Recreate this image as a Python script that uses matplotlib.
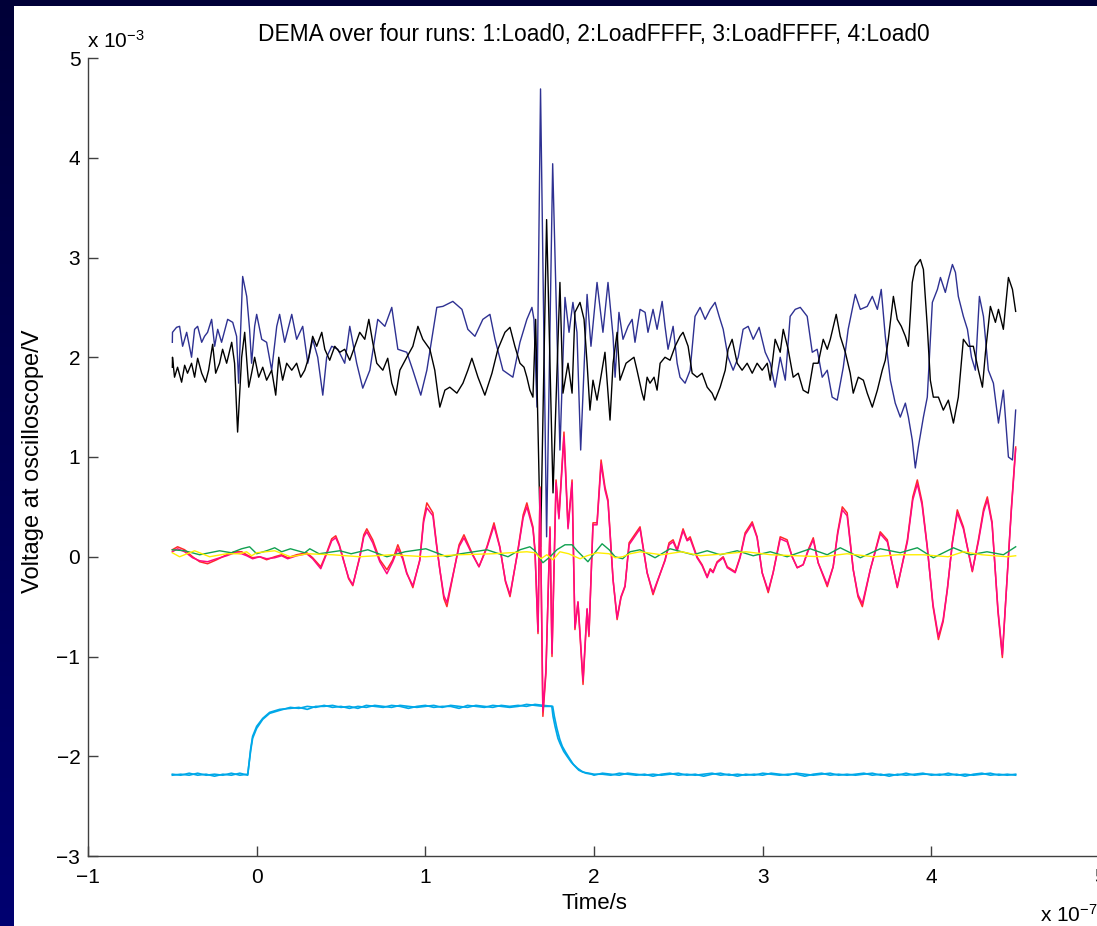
import numpy as np
import matplotlib
matplotlib.use("Agg")
import matplotlib.pyplot as plt
from matplotlib.patches import Rectangle
from matplotlib.colors import LinearSegmentedColormap

plt.rcParams['font.family'] = ['Liberation Sans', 'DejaVu Sans']
plt.rcParams['mathtext.fontset'] = 'custom'
plt.rcParams['mathtext.rm'] = 'Liberation Sans'
plt.rcParams['mathtext.it'] = 'Liberation Sans:italic'
plt.rcParams['mathtext.bf'] = 'Liberation Sans:bold'

# ---------------- data: time in units of 1e-7 s, voltage in units of 1e-3 V ----------------
title = "DEMA over four runs: 1:Load0, 2:LoadFFFF, 3:LoadFFFF, 4:Load0"
x_ticks = [-1, 0, 1, 2, 3, 4, 5]
y_ticks = [-3, -2, -1, 0, 1, 2, 3, 4, 5]

navy_trace = [
    (-0.50, 2.15), (-0.499, 2.25), (-0.475, 2.30), (-0.457, 2.31), (-0.439, 2.11), (-0.415, 2.25),
    (-0.386, 2.00), (-0.368, 2.28), (-0.350, 2.31), (-0.326, 2.15), (-0.309, 2.21), (-0.291, 2.25),
    (-0.267, 2.38), (-0.249, 2.11), (-0.231, 2.28), (-0.208, 2.15), (-0.172, 2.38), (-0.142, 2.35),
    (-0.119, 2.21), (-0.107, 1.74), (-0.083, 2.81), (-0.059, 2.61), (-0.042, 2.28), (-0.030, 1.94),
    (-0.012, 2.31), (0.000, 2.43), (0.030, 2.18), (0.059, 2.15), (0.089, 1.87), (0.119, 2.31),
    (0.136, 2.43), (0.166, 2.15), (0.208, 2.43), (0.237, 2.18), (0.273, 2.31), (0.303, 1.94),
    (0.332, 2.18), (0.362, 2.00), (0.392, 1.62), (0.415, 2.00), (0.445, 2.11), (0.481, 2.08),
    (0.522, 1.94), (0.552, 2.31), (0.593, 1.94), (0.629, 1.69), (0.671, 1.87), (0.718, 2.38),
    (0.760, 2.31), (0.801, 2.50), (0.837, 2.08), (0.890, 2.05), (0.926, 1.87), (0.973, 1.62),
    (1.009, 1.87), (1.068, 2.50), (1.104, 2.51), (1.163, 2.56), (1.217, 2.48), (1.252, 2.28),
    (1.294, 2.21), (1.341, 2.38), (1.383, 2.43), (1.413, 2.18), (1.460, 1.87), (1.519, 1.80),
    (1.561, 2.15), (1.602, 2.38), (1.632, 2.50), (1.644, 2.38), (1.662, 1.50), (1.683, 4.69),
    (1.719, 0.20), (1.755, 3.94), (1.798, 1.07), (1.828, 2.60), (1.852, 2.25), (1.875, 2.55),
    (1.899, 2.25), (1.921, 1.07), (1.959, 2.63), (1.982, 2.11), (2.018, 2.75), (2.053, 2.25),
    (2.083, 2.75), (2.113, 2.21), (2.125, 1.80), (2.148, 2.45), (2.172, 2.18), (2.202, 2.31),
    (2.226, 2.38), (2.243, 2.15), (2.273, 2.48), (2.303, 2.45), (2.320, 2.25), (2.350, 2.48),
    (2.374, 2.28), (2.404, 2.56), (2.421, 2.31), (2.439, 2.08), (2.469, 2.31), (2.493, 1.94),
    (2.510, 1.80), (2.540, 1.74), (2.570, 1.87), (2.599, 2.41), (2.629, 2.50), (2.659, 2.38),
    (2.689, 2.48), (2.718, 2.55), (2.742, 2.41), (2.766, 2.28), (2.795, 2.00), (2.825, 1.87),
    (2.855, 2.00), (2.884, 2.28), (2.914, 2.31), (2.944, 2.18), (2.979, 2.30), (3.015, 2.05),
    (3.045, 1.94), (3.074, 1.70), (3.104, 2.00), (3.134, 1.77), (3.163, 2.41), (3.193, 2.48),
    (3.223, 2.50), (3.264, 2.41), (3.294, 2.05), (3.323, 2.08), (3.353, 1.80), (3.383, 1.87),
    (3.412, 1.60), (3.442, 1.57), (3.478, 1.90), (3.507, 2.28), (3.549, 2.63), (3.579, 2.48),
    (3.620, 2.51), (3.650, 2.61), (3.680, 2.48), (3.703, 2.68), (3.727, 2.21), (3.757, 1.77),
    (3.786, 1.54), (3.816, 1.40), (3.846, 1.54), (3.864, 1.40), (3.887, 1.17), (3.905, 0.89),
    (3.923, 1.10), (3.953, 1.40), (3.976, 1.60), (4.006, 2.55), (4.036, 2.68), (4.054, 2.80),
    (4.083, 2.65), (4.101, 2.78), (4.125, 2.93), (4.143, 2.85), (4.160, 2.61), (4.190, 2.41),
    (4.214, 2.28), (4.238, 2.00), (4.261, 1.87), (4.285, 2.61), (4.309, 2.41), (4.338, 1.87),
    (4.368, 1.74), (4.398, 1.34), (4.427, 1.67), (4.457, 1.00), (4.481, 0.97), (4.500, 1.47),
]

black_trace = [
    (-0.50, 1.90), (-0.499, 2.00), (-0.487, 1.80), (-0.469, 1.90), (-0.445, 1.75), (-0.427, 1.92),
    (-0.410, 1.84), (-0.386, 1.94), (-0.368, 1.80), (-0.350, 1.99), (-0.326, 1.84), (-0.303, 1.75),
    (-0.285, 1.87), (-0.261, 2.13), (-0.243, 1.84), (-0.220, 1.94), (-0.202, 2.08), (-0.178, 1.94),
    (-0.148, 2.15), (-0.131, 1.94), (-0.113, 1.25), (-0.089, 2.00), (-0.071, 2.25), (-0.047, 1.70),
    (-0.030, 1.84), (-0.012, 2.00), (0.012, 1.80), (0.036, 1.90), (0.059, 1.77), (0.089, 1.87),
    (0.113, 1.62), (0.131, 2.00), (0.154, 1.77), (0.178, 1.94), (0.208, 1.87), (0.237, 1.94),
    (0.261, 1.80), (0.285, 1.87), (0.309, 2.00), (0.332, 2.21), (0.356, 2.11), (0.386, 2.25),
    (0.404, 2.08), (0.433, 1.97), (0.463, 2.11), (0.493, 2.05), (0.522, 2.08), (0.552, 1.97),
    (0.582, 2.11), (0.611, 2.25), (0.641, 2.18), (0.665, 2.38), (0.688, 2.15), (0.712, 1.94),
    (0.748, 1.87), (0.777, 1.99), (0.801, 1.74), (0.825, 1.62), (0.849, 1.87), (0.890, 2.00),
    (0.926, 2.11), (0.956, 2.31), (0.985, 2.18), (1.027, 2.08), (1.056, 1.87), (1.074, 1.64),
    (1.086, 1.50), (1.116, 1.67), (1.145, 1.70), (1.187, 1.64), (1.223, 1.74), (1.252, 1.87),
    (1.276, 1.99), (1.312, 1.80), (1.353, 1.62), (1.395, 1.84), (1.430, 2.08), (1.472, 2.25),
    (1.502, 2.30), (1.531, 2.11), (1.561, 1.94), (1.585, 1.90), (1.602, 1.80), (1.620, 1.67),
    (1.638, 1.60), (1.654, 2.38), (1.683, 0.10), (1.719, 3.38), (1.757, 0.64), (1.798, 2.75),
    (1.816, 1.64), (1.846, 1.94), (1.870, 1.64), (1.887, 2.45), (1.917, 2.55), (1.941, 2.38),
    (1.959, 1.94), (1.976, 1.47), (1.994, 1.77), (2.018, 1.57), (2.065, 2.05), (2.095, 1.37),
    (2.113, 1.94), (2.137, 2.25), (2.154, 1.77), (2.190, 1.94), (2.214, 1.97), (2.237, 2.00),
    (2.255, 1.87), (2.285, 1.64), (2.297, 1.57), (2.315, 1.80), (2.332, 1.74), (2.356, 1.80),
    (2.374, 1.67), (2.392, 1.94), (2.421, 2.00), (2.451, 1.97), (2.481, 2.11), (2.510, 2.21),
    (2.528, 2.25), (2.558, 2.11), (2.582, 1.84), (2.611, 1.80), (2.641, 1.84), (2.671, 1.70),
    (2.700, 1.64), (2.718, 1.57), (2.748, 1.70), (2.778, 1.87), (2.795, 2.08), (2.819, 2.18),
    (2.849, 1.94), (2.878, 1.87), (2.908, 1.94), (2.938, 1.84), (2.967, 1.94), (2.997, 1.87),
    (3.027, 1.94), (3.045, 1.77), (3.074, 2.18), (3.104, 2.05), (3.122, 2.28), (3.151, 2.08),
    (3.181, 1.80), (3.211, 1.84), (3.240, 1.67), (3.270, 1.64), (3.300, 1.94), (3.329, 1.94),
    (3.359, 2.18), (3.383, 2.08), (3.401, 2.18), (3.436, 2.43), (3.460, 2.21), (3.490, 2.05),
    (3.519, 1.84), (3.537, 1.64), (3.567, 1.80), (3.597, 1.77), (3.620, 1.64), (3.650, 1.50),
    (3.680, 1.67), (3.709, 1.87), (3.727, 1.97), (3.745, 2.18), (3.775, 2.61), (3.798, 2.38),
    (3.822, 2.31), (3.846, 2.21), (3.864, 2.11), (3.887, 2.75), (3.905, 2.91), (3.935, 2.98),
    (3.953, 2.88), (3.976, 2.31), (3.994, 1.77), (4.012, 1.60), (4.042, 1.60), (4.071, 1.47),
    (4.101, 1.57), (4.131, 1.34), (4.160, 1.60), (4.190, 2.18), (4.220, 2.11), (4.249, 2.11),
    (4.279, 1.87), (4.303, 1.70), (4.321, 2.05), (4.350, 2.51), (4.380, 2.35), (4.398, 2.48),
    (4.427, 2.28), (4.457, 2.80), (4.481, 2.68), (4.500, 2.46),
]

red_trace = [
    (-0.50, 0.07), (-0.469, 0.10), (-0.427, 0.07), (-0.380, 0.00), (-0.338, -0.05), (-0.291, -0.07),
    (-0.237, -0.03), (-0.178, 0.02), (-0.131, 0.05), (-0.089, 0.05), (-0.059, 0.02), (-0.024, -0.01),
    (0.018, 0.00), (0.059, -0.03), (0.107, 0.00), (0.148, 0.02), (0.184, -0.01), (0.237, 0.02),
    (0.297, 0.04), (0.332, -0.01), (0.380, -0.10), (0.415, 0.04), (0.445, 0.18), (0.469, 0.21),
    (0.490, 0.12), (0.510, 0.00), (0.545, -0.22), (0.570, -0.29), (0.590, -0.15), (0.611, 0.00),
    (0.635, 0.22), (0.653, 0.28), (0.688, 0.17), (0.730, -0.03), (0.772, -0.13), (0.807, -0.03),
    (0.837, 0.12), (0.865, 0.00), (0.890, -0.16), (0.926, -0.31), (0.967, -0.03), (0.990, 0.38),
    (1.009, 0.54), (1.045, 0.44), (1.065, 0.15), (1.086, -0.13), (1.110, -0.42), (1.128, -0.50),
    (1.163, -0.20), (1.200, 0.12), (1.229, 0.22), (1.276, 0.04), (1.318, -0.10), (1.365, 0.10),
    (1.407, 0.34), (1.442, 0.10), (1.475, -0.25), (1.502, -0.40), (1.549, 0.07), (1.580, 0.42),
    (1.602, 0.54), (1.638, 0.30), (1.650, 0.07), (1.668, -0.77), (1.680, 0.70), (1.697, -1.60),
    (1.715, -1.17), (1.739, 0.30), (1.751, -1.00), (1.775, 0.77), (1.792, 0.40), (1.822, 1.25),
    (1.846, 0.30), (1.870, 0.77), (1.887, -0.73), (1.905, -0.46), (1.935, -1.28), (1.959, -0.53),
    (1.970, -0.80), (1.994, 0.34), (2.018, 0.34), (2.042, 0.97), (2.065, 0.70), (2.083, 0.57),
    (2.113, -0.23), (2.137, -0.63), (2.160, -0.41), (2.184, -0.30), (2.208, 0.14), (2.273, 0.30),
    (2.315, -0.16), (2.350, -0.38), (2.374, -0.26), (2.421, -0.03), (2.445, 0.14), (2.469, 0.17),
    (2.493, 0.07), (2.528, 0.28), (2.552, 0.17), (2.570, 0.20), (2.611, 0.00), (2.641, -0.08),
    (2.671, -0.20), (2.689, -0.12), (2.706, -0.15), (2.730, -0.05), (2.766, 0.00), (2.790, -0.10),
    (2.837, -0.15), (2.866, 0.00), (2.896, 0.24), (2.938, 0.35), (2.967, 0.20), (2.997, -0.16),
    (3.033, -0.36), (3.062, -0.16), (3.104, 0.20), (3.145, 0.17), (3.175, 0.00), (3.205, -0.11),
    (3.240, -0.08), (3.270, 0.07), (3.300, 0.19), (3.329, -0.06), (3.383, -0.30), (3.418, -0.10),
    (3.445, 0.25), (3.472, 0.50), (3.501, 0.44), (3.537, -0.13), (3.565, -0.40), (3.591, -0.50),
    (3.638, -0.13), (3.697, 0.25), (3.739, 0.17), (3.798, -0.31), (3.858, 0.17), (3.890, 0.60),
    (3.917, 0.77), (3.945, 0.55), (3.976, 0.10), (4.010, -0.50), (4.042, -0.83), (4.070, -0.65),
    (4.095, -0.33), (4.125, 0.15), (4.154, 0.47), (4.190, 0.30), (4.243, -0.15), (4.279, 0.17),
    (4.310, 0.48), (4.332, 0.60), (4.360, 0.35), (4.395, -0.55), (4.421, -1.01), (4.451, -0.16),
    (4.475, 0.50), (4.500, 1.10),
]

magenta_trace = [
    (-0.50, 0.05), (-0.469, 0.08), (-0.427, 0.05), (-0.380, -0.01), (-0.338, -0.04), (-0.291, -0.05),
    (-0.237, -0.02), (-0.178, 0.01), (-0.131, 0.04), (-0.089, 0.03), (-0.059, 0.01), (-0.024, -0.02),
    (0.018, 0.00), (0.059, -0.02), (0.107, -0.01), (0.148, 0.01), (0.184, -0.02), (0.237, 0.01),
    (0.297, 0.03), (0.332, -0.02), (0.380, -0.12), (0.415, 0.03), (0.445, 0.16), (0.469, 0.19),
    (0.490, 0.11), (0.510, -0.01), (0.545, -0.21), (0.570, -0.28), (0.590, -0.15), (0.611, -0.01),
    (0.635, 0.20), (0.653, 0.25), (0.688, 0.14), (0.730, -0.05), (0.772, -0.17), (0.807, -0.05),
    (0.837, 0.08), (0.865, -0.02), (0.890, -0.17), (0.926, -0.29), (0.967, -0.04), (0.990, 0.35),
    (1.009, 0.49), (1.045, 0.41), (1.065, 0.13), (1.086, -0.13), (1.110, -0.39), (1.128, -0.46),
    (1.163, -0.19), (1.200, 0.10), (1.229, 0.19), (1.276, 0.03), (1.318, -0.10), (1.365, 0.09),
    (1.407, 0.31), (1.442, 0.09), (1.475, -0.24), (1.502, -0.38), (1.549, 0.06), (1.580, 0.39),
    (1.602, 0.50), (1.638, 0.28), (1.650, 0.06), (1.668, -0.75), (1.680, 0.68), (1.697, -1.55),
    (1.715, -1.14), (1.739, 0.28), (1.751, -0.97), (1.775, 0.74), (1.792, 0.38), (1.822, 1.20),
    (1.846, 0.28), (1.870, 0.74), (1.887, -0.71), (1.905, -0.45), (1.935, -1.24), (1.959, -0.52),
    (1.970, -0.78), (1.994, 0.32), (2.018, 0.32), (2.042, 0.93), (2.065, 0.67), (2.083, 0.55),
    (2.113, -0.23), (2.137, -0.61), (2.160, -0.40), (2.184, -0.29), (2.208, 0.12), (2.273, 0.28),
    (2.315, -0.16), (2.350, -0.36), (2.374, -0.25), (2.421, -0.04), (2.445, 0.12), (2.469, 0.15),
    (2.493, 0.06), (2.528, 0.26), (2.552, 0.16), (2.570, 0.18), (2.611, -0.01), (2.641, -0.09),
    (2.671, -0.21), (2.689, -0.13), (2.706, -0.16), (2.730, -0.06), (2.766, -0.01), (2.790, -0.11),
    (2.837, -0.16), (2.866, -0.01), (2.896, 0.22), (2.938, 0.33), (2.967, 0.19), (2.997, -0.16),
    (3.033, -0.34), (3.062, -0.16), (3.104, 0.18), (3.145, 0.15), (3.175, 0.00), (3.205, -0.11),
    (3.240, -0.08), (3.270, 0.06), (3.300, 0.17), (3.329, -0.06), (3.383, -0.28), (3.418, -0.10),
    (3.445, 0.23), (3.472, 0.47), (3.501, 0.41), (3.537, -0.13), (3.565, -0.38), (3.591, -0.47),
    (3.638, -0.13), (3.697, 0.23), (3.739, 0.15), (3.798, -0.30), (3.858, 0.15), (3.890, 0.57),
    (3.917, 0.73), (3.945, 0.52), (3.976, 0.09), (4.010, -0.48), (4.042, -0.80), (4.070, -0.63),
    (4.095, -0.32), (4.125, 0.14), (4.154, 0.44), (4.190, 0.28), (4.243, -0.14), (4.279, 0.15),
    (4.310, 0.45), (4.332, 0.57), (4.360, 0.33), (4.395, -0.53), (4.421, -0.98), (4.451, -0.16),
    (4.475, 0.48), (4.500, 1.08),
]

green_trace = [
    (-0.50, 0.07), (-0.427, 0.06), (-0.338, 0.02), (-0.220, 0.06), (-0.150, 0.04), (-0.089, 0.08),
    (-0.042, 0.10), (0.000, 0.03), (0.059, 0.06), (0.107, 0.09), (0.148, 0.05), (0.200, 0.08),
    (0.285, 0.04), (0.315, 0.08), (0.370, 0.03), (0.493, 0.06), (0.560, 0.03), (0.659, 0.07),
    (0.772, 0.00), (0.880, 0.05), (1.003, 0.08), (1.128, 0.00), (1.210, 0.03), (1.365, 0.07),
    (1.490, 0.00), (1.561, 0.07), (1.620, 0.10), (1.650, 0.06), (1.697, -0.06), (1.740, 0.00),
    (1.780, 0.07), (1.828, 0.12), (1.870, 0.12), (1.900, 0.06), (1.935, 0.00), (1.964, -0.05),
    (2.000, 0.03), (2.048, 0.13), (2.090, 0.07), (2.125, 0.00), (2.170, -0.02), (2.214, 0.05),
    (2.273, 0.07), (2.362, -0.01), (2.451, 0.08), (2.588, 0.02), (2.671, 0.06), (2.748, 0.02),
    (2.849, 0.06), (2.944, 0.01), (3.045, 0.05), (3.145, 0.00), (3.282, 0.08), (3.383, 0.02),
    (3.460, 0.09), (3.579, -0.01), (3.697, 0.08), (3.816, 0.04), (3.917, 0.09), (4.012, -0.01),
    (4.131, 0.09), (4.232, 0.02), (4.330, 0.05), (4.427, 0.02), (4.500, 0.10),
]

yellow_trace = [
    (-0.50, 0.04), (-0.457, 0.00), (-0.368, 0.06), (-0.279, 0.00), (-0.178, 0.03), (-0.100, 0.03),
    (-0.060, 0.05), (-0.030, 0.01), (0.000, 0.04), (0.107, 0.06), (0.200, 0.00), (0.300, 0.03),
    (0.450, 0.02), (0.611, 0.00), (0.800, 0.02), (1.000, 0.00), (1.200, 0.02), (1.400, 0.03),
    (1.602, 0.05), (1.650, 0.04), (1.686, -0.02), (1.720, 0.02), (1.757, -0.03), (1.798, 0.05),
    (1.850, 0.03), (1.917, -0.02), (1.959, 0.01), (2.018, 0.04), (2.090, 0.03), (2.125, -0.01),
    (2.170, 0.00), (2.214, 0.03), (2.273, 0.05), (2.400, 0.02), (2.520, 0.05), (2.630, 0.01),
    (2.780, 0.03), (2.900, 0.05), (3.050, 0.02), (3.200, 0.01), (3.350, 0.00), (3.500, 0.03),
    (3.660, 0.00), (3.800, 0.02), (3.950, 0.02), (4.100, 0.00), (4.190, 0.05), (4.300, 0.02),
    (4.450, 0.00), (4.500, 0.01),
]

cyan_trace_a = [
    (-0.50, -2.18), (-0.45, -2.19), (-0.40, -2.17), (-0.35, -2.19), (-0.30, -2.18), (-0.25, -2.20),
    (-0.20, -2.18), (-0.15, -2.19), (-0.10, -2.17), (-0.053, -2.19), (-0.036, -1.93), (-0.024, -1.80),
    (0.000, -1.70), (0.036, -1.62), (0.077, -1.56), (0.136, -1.53), (0.20, -1.52), (0.25, -1.51),
    (0.30, -1.53), (0.35, -1.50), (0.40, -1.50), (0.45, -1.49), (0.50, -1.51), (0.55, -1.50),
    (0.60, -1.52), (0.65, -1.49), (0.70, -1.50), (0.75, -1.51), (0.80, -1.49), (0.85, -1.50),
    (0.90, -1.52), (0.95, -1.50), (1.00, -1.49), (1.05, -1.51), (1.10, -1.50), (1.15, -1.50),
    (1.20, -1.52), (1.25, -1.49), (1.30, -1.50), (1.35, -1.51), (1.40, -1.49), (1.45, -1.50),
    (1.50, -1.51), (1.55, -1.50), (1.60, -1.48), (1.65, -1.49), (1.70, -1.50), (1.75, -1.50),
    (1.757, -1.60), (1.769, -1.70), (1.786, -1.82), (1.798, -1.87), (1.820, -1.95), (1.840, -2.00),
    (1.865, -2.06), (1.887, -2.10), (1.910, -2.14), (1.935, -2.16), (1.970, -2.17), (2.00, -2.18),
    (2.05, -2.18), (2.10, -2.19), (2.15, -2.17), (2.20, -2.18), (2.25, -2.19), (2.30, -2.18),
    (2.35, -2.20), (2.40, -2.18), (2.45, -2.17), (2.50, -2.19), (2.55, -2.18), (2.60, -2.19),
    (2.65, -2.18), (2.70, -2.17), (2.75, -2.19), (2.80, -2.18), (2.85, -2.20), (2.90, -2.18),
    (2.95, -2.19), (3.00, -2.17), (3.05, -2.18), (3.10, -2.19), (3.15, -2.18), (3.20, -2.18),
    (3.25, -2.20), (3.30, -2.18), (3.35, -2.17), (3.40, -2.19), (3.45, -2.18), (3.50, -2.19),
    (3.55, -2.18), (3.60, -2.17), (3.65, -2.19), (3.70, -2.18), (3.75, -2.20), (3.80, -2.18),
    (3.85, -2.19), (3.90, -2.18), (3.95, -2.17), (4.00, -2.19), (4.05, -2.18), (4.10, -2.19),
    (4.15, -2.18), (4.20, -2.20), (4.25, -2.18), (4.30, -2.17), (4.35, -2.19), (4.40, -2.18),
    (4.45, -2.19), (4.50, -2.18),
]

cyan_trace_b = [
    (-0.50, -2.19), (-0.45, -2.18), (-0.40, -2.19), (-0.35, -2.17), (-0.30, -2.19), (-0.25, -2.18),
    (-0.20, -2.19), (-0.15, -2.17), (-0.10, -2.19), (-0.053, -2.18), (-0.036, -1.95), (-0.024, -1.82),
    (0.000, -1.72), (0.036, -1.63), (0.077, -1.57), (0.136, -1.54), (0.20, -1.51), (0.25, -1.52),
    (0.30, -1.50), (0.35, -1.51), (0.40, -1.49), (0.45, -1.51), (0.50, -1.50), (0.55, -1.52),
    (0.60, -1.50), (0.65, -1.51), (0.70, -1.49), (0.75, -1.50), (0.80, -1.51), (0.85, -1.49),
    (0.90, -1.50), (0.95, -1.51), (1.00, -1.50), (1.05, -1.49), (1.10, -1.51), (1.15, -1.49),
    (1.20, -1.50), (1.25, -1.51), (1.30, -1.49), (1.35, -1.50), (1.40, -1.51), (1.45, -1.49),
    (1.50, -1.50), (1.55, -1.49), (1.60, -1.50), (1.65, -1.48), (1.70, -1.49), (1.755, -1.50),
    (1.765, -1.60), (1.780, -1.72), (1.797, -1.83), (1.812, -1.90), (1.832, -1.96), (1.854, -2.02),
    (1.877, -2.08), (1.902, -2.12), (1.927, -2.15), (1.952, -2.17), (1.985, -2.18), (2.00, -2.19),
    (2.05, -2.17), (2.10, -2.18), (2.15, -2.19), (2.20, -2.17), (2.25, -2.18), (2.30, -2.19),
    (2.35, -2.18), (2.40, -2.19), (2.45, -2.18), (2.50, -2.17), (2.55, -2.19), (2.60, -2.18),
    (2.65, -2.20), (2.70, -2.18), (2.75, -2.17), (2.80, -2.19), (2.85, -2.18), (2.90, -2.19),
    (2.95, -2.18), (3.00, -2.19), (3.05, -2.17), (3.10, -2.18), (3.15, -2.19), (3.20, -2.17),
    (3.25, -2.18), (3.30, -2.19), (3.35, -2.18), (3.40, -2.17), (3.45, -2.19), (3.50, -2.18),
    (3.55, -2.19), (3.60, -2.18), (3.65, -2.17), (3.70, -2.19), (3.75, -2.18), (3.80, -2.19),
    (3.85, -2.17), (3.90, -2.19), (3.95, -2.18), (4.00, -2.18), (4.05, -2.19), (4.10, -2.17),
    (4.15, -2.19), (4.20, -2.18), (4.25, -2.19), (4.30, -2.18), (4.35, -2.17), (4.40, -2.19),
    (4.45, -2.18), (4.50, -2.19),
]

series = [
    (cyan_trace_a, '#00a8e8', 1.2),
    (cyan_trace_b, '#00a8e8', 1.2),
    (navy_trace, '#2e3192', 1.0),
    (black_trace, '#000000', 1.0),
    (red_trace, '#ff2a2a', 1.1),
    (magenta_trace, '#ff0a80', 1.1),
    (green_trace, '#10a050', 1.0),
    (yellow_trace, '#ffee00', 1.0),
]

# ---------------- figure ----------------
W, H = 1097, 926
fig = plt.figure(figsize=(W / 100, H / 100), dpi=100)

bg = fig.add_axes([0, 0, 1, 1], zorder=-10)
grad = np.linspace(0, 1, 256).reshape(-1, 1)
bg.imshow(grad, aspect='auto', extent=[0, 1, 0, 1], origin='upper',
          cmap=LinearSegmentedColormap.from_list('bg', ['#000038', '#000070']))
bg.set_axis_off()

white = Rectangle((14 / W, 0), 1, 1 - 6 / H, transform=fig.transFigure,
                  facecolor='white', edgecolor='none', zorder=-5)
fig.add_artist(white)

ax = fig.add_axes([88 / W, 1 - 856 / H, (1100 - 88) / W, (856 - 58) / H])
ax.set_facecolor('none')

for data, color, lw in series:
    t = [p[0] for p in data]
    v = [p[1] for p in data]
    ax.plot(t, v, color=color, lw=lw, clip_on=False)

ax.set_xlim(-1, 5)
ax.set_ylim(-3, 5)
ax.set_xticks(x_ticks)
ax.set_yticks(y_ticks)
for s in ['top', 'right']:
    ax.spines[s].set_visible(False)
for s in ['left', 'bottom']:
    ax.spines[s].set_color('#404040')
    ax.spines[s].set_linewidth(1.0)
ax.tick_params(direction='in', length=7, width=1, color='#404040', labelsize=15,
               labelcolor='black')
ax.tick_params(axis='x', pad=8.5)
ax.tick_params(axis='y', pad=5.5)

fig.text(594 / W, 1 - 41 / H, title, ha='center', va='baseline', fontsize=16.4)
fig.text(87 / W, 1 - 48 / H, r'x 10$^{-3}$', ha='left', va='baseline', fontsize=15)
fig.text(1040 / W, 1 - 922 / H, r'x 10$^{-7}$', ha='left', va='baseline', fontsize=15)
fig.text(594 / W, 1 - 909 / H, 'Time/s', ha='center', va='baseline', fontsize=16)
fig.text(33 / W, 1 - 461 / H, 'Voltage at oscilloscope/V', ha='center', va='center',
         rotation=90, fontsize=17)

fig.savefig('out.png', dpi=100, facecolor=fig.get_facecolor())
